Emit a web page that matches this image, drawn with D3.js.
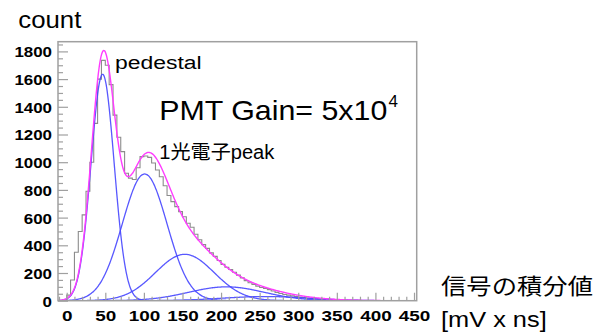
<!DOCTYPE html>
<html><head><meta charset="utf-8">
<script src="https://cdn.jsdelivr.net/npm/d3@7/dist/d3.min.js"></script>
<style>html,body{margin:0;padding:0;background:#fff;}svg{display:block;}</style>
</head><body>
<svg id="c" width="612" height="335"></svg>
<script>
// ---- data ----
const binWidth = 5;
const binStarts = d3.range(-10, 450, 5);
const histCounts = [
  0, 5, 40, 150, 350, 500, 620, 790, 1000, 1280,          // -10 .. 35
  1600, 1735, 1700, 1560, 1340, 1180, 1076, 920, 885, 875, // 40 .. 85
  960, 1040, 1045, 1035, 994, 944, 895, 830, 760, 715,     // 90 .. 135
  679, 643, 606, 559, 530, 480, 440, 405, 378, 345,        // 140 .. 185
  320, 290, 262, 242, 225, 205, 185, 165, 145, 130,        // 190 .. 235
  118, 105, 95, 88, 80, 70, 60, 52, 45, 40,                // 240 .. 285
  35, 30, 26, 22, 18, 15, 12, 10, 9, 12,                   // 290 .. 335
  8, 6, 5, 4, 3, 3, 2, 2, 1, 1,                            // 340 .. 385
  1, 0, 0, 0, 0, 0, 0, 0, 0, 0,                            // 390 .. 435
  0, 0                                                     // 440 .. 445
];
// Gaussian fit components
const peakNames  = ["pedestal", "1pe", "2pe", "3pe", "4pe"];
const gaussAmp   = [1635, 915, 335, 100, 30];
const gaussMean  = [46.5, 101, 153, 207, 258];
const gaussSigma = [15, 29, 38, 49, 56];
const xTicks = [0, 50, 100, 150, 200, 250, 300, 350, 400, 450];
const yTicks = [0, 200, 400, 600, 800, 1000, 1200, 1400, 1600, 1800];

// ---- layout ----
const L = 58, R = 416.7, T = 41.7, B = 300.7;
const x = d3.scaleLinear().domain([-11.3, 453.5]).range([L, R]);
const y = d3.scaleLinear().domain([0, 1870]).range([B, T]);
const svg = d3.select("#c");

svg.append("defs").append("clipPath").attr("id","clip")
  .append("rect").attr("x",L).attr("y",T).attr("width",R-L).attr("height",B-T);

// histogram (step line)
const stepPts = [];
binStarts.forEach((s,i)=>{ stepPts.push([s, histCounts[i]]); stepPts.push([s+binWidth, histCounts[i]]); });
const g = svg.append("g").attr("clip-path","url(#clip)");
g.append("path").datum(stepPts)
  .attr("d", d3.line().x(d=>x(d[0])).y(d=>y(d[1])))
  .attr("fill","none").attr("stroke","#8c8c8c").attr("stroke-width",1.1);

// fit curves
const xs = d3.range(-11, 454, 1);
const comp = (k, v) => gaussAmp[k]*Math.exp(-0.5*Math.pow((v-gaussMean[k])/gaussSigma[k],2));
const line = d3.line().x(d=>x(d[0])).y(d=>y(d[1])).curve(d3.curveMonotoneX);
peakNames.forEach((n,k)=>{
  g.append("path").datum(xs.map(v=>[v, comp(k,v)]))
    .attr("d", line).attr("fill","none")
    .attr("stroke","rgb(70,70,255)").attr("stroke-width",1.3).attr("stroke-opacity",0.9);
});
g.append("path").datum(xs.map(v=>[v, d3.sum(peakNames, (n,k)=>comp(k,v))]))
  .attr("d", line).attr("fill","none")
  .attr("stroke","rgb(255,60,255)").attr("stroke-width",1.4);

// frame
svg.append("rect").attr("x",L).attr("y",T).attr("width",R-L).attr("height",B-T)
  .attr("fill","none").attr("stroke","#a0a0a0").attr("stroke-width",1.5);

// axes
const yAx = svg.append("g").attr("transform",`translate(${L},0)`)
  .call(d3.axisRight(y).tickValues(d3.range(0,1870,50)).tickSize(0).tickFormat(""));
yAx.select(".domain").remove();
yAx.selectAll(".tick line").attr("x2", d => d%200===0 ? 10 : 5).attr("stroke","#a0a0a0").attr("stroke-width",1.2);
const yLab = svg.append("g").attr("transform",`translate(${L-3},0)`)
  .call(d3.axisLeft(y).tickValues(yTicks).tickSize(0).tickFormat(d3.format("d")));
yLab.select(".domain").remove();
yLab.selectAll("text").attr("font-family","Liberation Sans, Arial, sans-serif")
  .attr("font-weight","bold").attr("font-size",15).attr("fill","#000").attr("dy","0.36em")
  .attr("textLength",d=>String(d).length*9.4).attr("lengthAdjust","spacingAndGlyphs");

const xAx = svg.append("g").attr("transform",`translate(0,${B})`)
  .call(d3.axisTop(x).tickValues(d3.range(-10,454,10)).tickSize(0).tickFormat(""));
xAx.select(".domain").remove();
xAx.selectAll(".tick line").attr("y2", d => d%50===0 ? -8 : -4).attr("stroke","#a0a0a0").attr("stroke-width",1.2);
const xLab = svg.append("g").attr("transform",`translate(0,${B+4})`)
  .call(d3.axisBottom(x).tickValues(xTicks).tickSize(0).tickFormat(d3.format("d")));
xLab.select(".domain").remove();
xLab.selectAll("text").attr("font-family","Liberation Sans, Arial, sans-serif")
  .attr("font-weight","bold").attr("font-size",15).attr("fill","#000").attr("dy","0.92em")
  .attr("textLength",d=>String(d).length*10.5).attr("lengthAdjust","spacingAndGlyphs");

// texts
const sans = "Liberation Sans, Arial, sans-serif";
const cjk = "Noto Sans CJK JP, sans-serif";
svg.append("text").attr("x",18.3).attr("y",27.5).attr("font-family",sans).attr("font-size",23)
  .attr("textLength",63).attr("lengthAdjust","spacingAndGlyphs").text("count");
svg.append("text").attr("x",115).attr("y",69.3).attr("font-family",sans).attr("font-size",18)
  .attr("textLength",86.7).attr("lengthAdjust","spacingAndGlyphs").text("pedestal");
svg.append("text").attr("x",159.3).attr("y",120).attr("font-family",sans).attr("font-size",27.5)
  .attr("textLength",228).attr("lengthAdjust","spacingAndGlyphs").text("PMT Gain= 5x10");
svg.append("text").attr("x",388.5).attr("y",107).attr("font-family",sans).attr("font-size",17)
  .text("4");
const pe = svg.append("text").attr("x",159.3).attr("y",158.5).attr("font-size",19.5)
  .attr("textLength",115).attr("lengthAdjust","spacingAndGlyphs");
pe.append("tspan").attr("font-family",sans).text("1");
pe.append("tspan").attr("font-family",cjk).text("光電子");
pe.append("tspan").attr("font-family",sans).text("peak");
svg.append("text").attr("x",441).attr("y",294).attr("font-family",cjk).attr("font-size",22)
  .attr("textLength",152).attr("lengthAdjust","spacingAndGlyphs").text("信号の積分値");
svg.append("text").attr("x",441).attr("y",326.7).attr("font-family",sans).attr("font-size",22)
  .attr("textLength",105.7).attr("lengthAdjust","spacingAndGlyphs").text("[mV x ns]");
</script>
</body></html>
